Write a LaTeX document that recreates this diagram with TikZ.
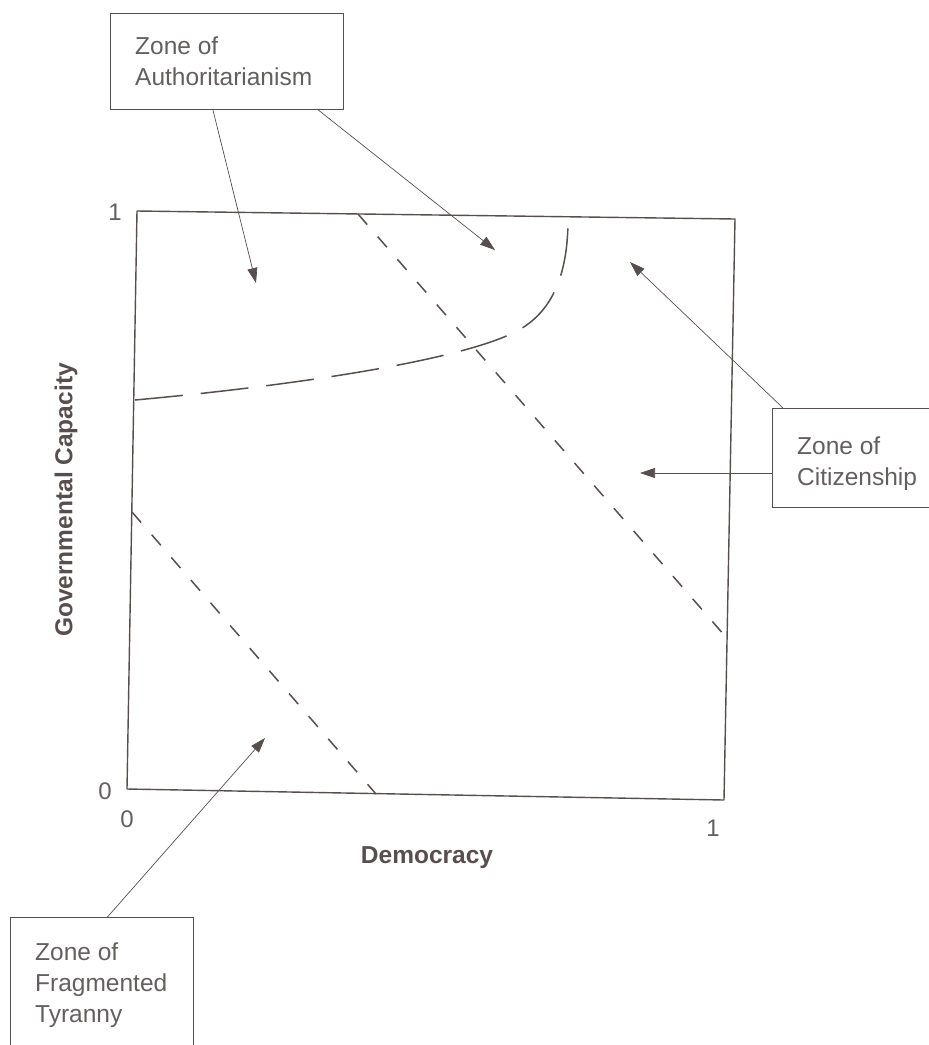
\documentclass[tikz,border=0pt]{standalone}
\usepackage{fontspec}
\setmainfont{Liberation Sans}
\usetikzlibrary{calc,arrows.meta}
\definecolor{ink}{RGB}{88,78,78}
\definecolor{txt}{RGB}{100,95,95}
\begin{document}
\begin{tikzpicture}[x=1pt,y=-1pt,
 zonebox/.style={draw=ink,line width=0.9pt,inner sep=0pt,anchor=north west},
 zonetext/.style={text=txt,font=\fontsize{24.5}{31}\selectfont,align=left,anchor=north west,inner sep=0pt},
 pointer/.style={draw=ink,line width=0.7pt,-{Triangle[length=15pt,width=10pt]}},
 frame/.style={draw=ink,line width=1.4pt,line join=round},
 shortdash/.style={draw=ink,line width=1.5pt,dash pattern=on 14pt off 16pt},
 longdash/.style={draw=ink,line width=1.5pt,dash pattern=on 48pt off 18pt},
 tick/.style={text=txt,font=\fontsize{24}{28}\selectfont,inner sep=0pt},
 axis/.style={text=ink,font=\bfseries\fontsize{24.5}{28}\selectfont,inner sep=0pt}]
\useasboundingbox (0,0) rectangle (929,1045);
\clip (0,0) rectangle (929,1045);

% plot frame
\draw[frame] (137,211) -- (735,219) -- (724,800) -- (127,789) -- cycle;

% zone boundaries
\draw[shortdash] (358,214) -- (725,636);
\draw[shortdash] (132,512) -- (376,794);
\draw[longdash] (135,400) .. controls (300,385) and (460,360) .. (515,332)
  .. controls (555,312) and (568,270) .. (568,219);

% label boxes
\node[zonebox,minimum width=233pt,minimum height=96pt] (auth) at (110,13) {};
\node[zonetext] (authtxt) at (135,37) {Zone of\\Authoritarianism};
\node[zonebox,minimum width=170pt,minimum height=99pt] (cit) at (772,408) {};
\node[zonetext] (cittxt) at (797,437) {Zone of\\Citizenship};
\node[zonebox,minimum width=183pt,minimum height=140pt] (frag) at (10,917) {};
\node[zonetext] (fragtxt) at (35,943) {Zone of\\Fragmented\\Tyranny};

% pointers
\coordinate (t1) at (256,283);
\coordinate (t2) at (495,250);
\coordinate (t3) at (630,262);
\coordinate (t4) at (640,473);
\coordinate (t5) at (265,738);
\draw[pointer] ($(auth.south west)!0.44!(auth.south east)$) -- (t1);
\draw[pointer] ($(auth.south west)!0.89!(auth.south east)$) -- (t2);
\draw[pointer] ($(cit.north west)+(11,0)$) -- (t3);
\draw[pointer] (cit.west |- t4) -- (t4);
\draw[pointer] ($(frag.north west)!0.53!(frag.north east)$) -- (t5);

% axis ticks and labels
\node[tick] (y1) at (115,212) {1};
\node[tick] (y0) at (105,791) {0};
\node[tick] (x0) at (127,819) {0};
\node[tick] (x1) at (713,828) {1};
\node[axis] (xl) at (427,858) {Democracy};
\node[axis,rotate=90] (yl) at (66,500) {Governmental Capacity};
\end{tikzpicture}
\end{document}
